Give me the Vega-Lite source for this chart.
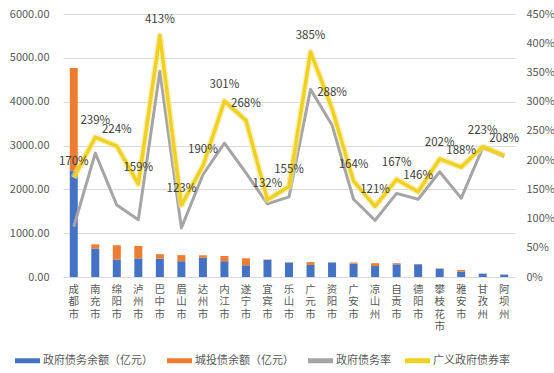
{
  "$schema": "https://vega.github.io/schema/vega-lite/v6.json",
  "width": 452,
  "height": 263,
  "autosize": {"type": "none"},
  "padding": {"left": 63, "top": 14, "right": 39, "bottom": 96},
  "background": "white",
  "config": {
    "font": "Noto Sans CJK SC",
    "view": {"stroke": null},
    "axis": {"labelFont": "Noto Sans CJK SC", "labelFontSize": 11, "labelColor": "#595959", "title": null}
  },
  "data": {
    "values": [
      {"city": "成都市", "gov": 2430, "lgfv": 2340, "rate": 0.86, "broad": 1.70},
      {"city": "南充市", "gov": 650, "lgfv": 95, "rate": 2.12, "broad": 2.39},
      {"city": "绵阳市", "gov": 400, "lgfv": 325, "rate": 1.23, "broad": 2.24},
      {"city": "泸州市", "gov": 425, "lgfv": 285, "rate": 0.98, "broad": 1.59},
      {"city": "巴中市", "gov": 420, "lgfv": 100, "rate": 3.52, "broad": 4.13},
      {"city": "眉山市", "gov": 360, "lgfv": 140, "rate": 0.84, "broad": 1.23},
      {"city": "达州市", "gov": 440, "lgfv": 55, "rate": 1.75, "broad": 1.90},
      {"city": "内江市", "gov": 360, "lgfv": 120, "rate": 2.29, "broad": 3.01},
      {"city": "遂宁市", "gov": 267, "lgfv": 160, "rate": 1.78, "broad": 2.68},
      {"city": "宜宾市", "gov": 390, "lgfv": 10, "rate": 1.25, "broad": 1.32},
      {"city": "乐山市", "gov": 330, "lgfv": 5, "rate": 1.37, "broad": 1.55},
      {"city": "广元市", "gov": 275, "lgfv": 65, "rate": 3.21, "broad": 3.85},
      {"city": "资阳市", "gov": 330, "lgfv": 5, "rate": 2.60, "broad": 2.88},
      {"city": "广安市", "gov": 305, "lgfv": 25, "rate": 1.33, "broad": 1.64},
      {"city": "凉山州", "gov": 250, "lgfv": 65, "rate": 0.97, "broad": 1.21},
      {"city": "自贡市", "gov": 290, "lgfv": 25, "rate": 1.43, "broad": 1.67},
      {"city": "德阳市", "gov": 290, "lgfv": 5, "rate": 1.33, "broad": 1.46},
      {"city": "攀枝花市", "gov": 190, "lgfv": 5, "rate": 1.80, "broad": 2.02},
      {"city": "雅安市", "gov": 123, "lgfv": 37, "rate": 1.35, "broad": 1.88},
      {"city": "甘孜州", "gov": 77, "lgfv": 0, "rate": 2.21, "broad": 2.23},
      {"city": "阿坝州", "gov": 55, "lgfv": 0, "rate": 2.06, "broad": 2.08}
    ]
  },
  "encoding": {
    "x": {
      "field": "city", "type": "nominal", "sort": null,
      "scale": {"paddingInner": 0.6, "paddingOuter": 0.3},
      "axis": {
        "labelExpr": "split(datum.label, '')",
        "labelAngle": 0, "labelBaseline": "top", "labelLineHeight": 12.5, "labelFontSize": 10.5,
        "labelPadding": 7, "ticks": false, "domainColor": "#D9D9D9", "grid": false
      }
    }
  },
  "layer": [
    {
      "transform": [{"fold": ["gov", "lgfv"], "as": ["series", "amount"]}],
      "mark": {"type": "bar", "size": 8},
      "encoding": {
        "y": {
          "field": "amount", "type": "quantitative", "stack": "zero",
          "scale": {"domain": [0, 6000], "nice": false},
          "axis": {"values": [0, 1000, 2000, 3000, 4000, 5000, 6000], "format": ".2f", "domain": false, "ticks": false, "labelPadding": 14, "labelOverlap": false, "grid": true, "gridColor": "#D9D9D9"}
        },
        "order": {"field": "series", "sort": "ascending"},
        "color": {
          "field": "series", "type": "nominal",
          "scale": {"domain": ["gov", "lgfv", "rate", "broad"], "range": ["#4472C4", "#ED7D31", "#A5A5A5", "#F0D020"]},
          "legend": {
            "orient": "none", "direction": "horizontal", "legendX": -48, "legendY": 334,
            "title": null, "padding": 0,
            "symbolType": "M-1,-0.2H1V0.2H-1Z", "symbolSize": 625, "symbolStrokeWidth": 0,
            "labelFontSize": 11, "labelColor": "#595959", "labelOffset": 3, "columnPadding": 14,
            "labelExpr": "{'gov': '政府债务余额（亿元）', 'lgfv': '城投债余额（亿元）', 'rate': '政府债务率', 'broad': '广义政府债券率'}[datum.label]"
          }
        }
      }
    },
    {
      "encoding": {
        "y": {
          "field": "pct", "type": "quantitative",
          "scale": {"domain": [0, 4.5], "nice": false},
          "axis": {"orient": "right", "values": [0, 0.5, 1, 1.5, 2, 2.5, 3, 3.5, 4, 4.5], "format": ".0%", "domain": false, "ticks": false, "grid": false, "labelPadding": 11, "labelOverlap": false}
        }
      },
      "layer": [
        {
          "transform": [{"fold": ["rate"], "as": ["series", "pct"]}],
          "mark": {"type": "line", "strokeWidth": 3, "strokeJoin": "round"},
          "encoding": {"color": {"field": "series", "type": "nominal"}}
        },
        {
          "transform": [{"fold": ["broad"], "as": ["series", "pct"]}],
          "mark": {"type": "line", "strokeWidth": 6.5, "color": "#F6E68A", "opacity": 0.6, "strokeJoin": "round"},
          "encoding": {}
        },
        {
          "transform": [{"fold": ["broad"], "as": ["series", "pct"]}],
          "mark": {"type": "line", "strokeWidth": 3.5, "strokeJoin": "round"},
          "encoding": {"color": {"field": "series", "type": "nominal"}}
        },
        {
          "transform": [{"fold": ["broad"], "as": ["series", "pct"]}],
          "mark": {"type": "text", "dy": -16, "fontSize": 11.5, "color": "#404040", "baseline": "middle"},
          "encoding": {"text": {"field": "pct", "type": "quantitative", "format": ".0%"}}
        }
      ]
    }
  ],
  "resolve": {"scale": {"y": "independent"}}
}
